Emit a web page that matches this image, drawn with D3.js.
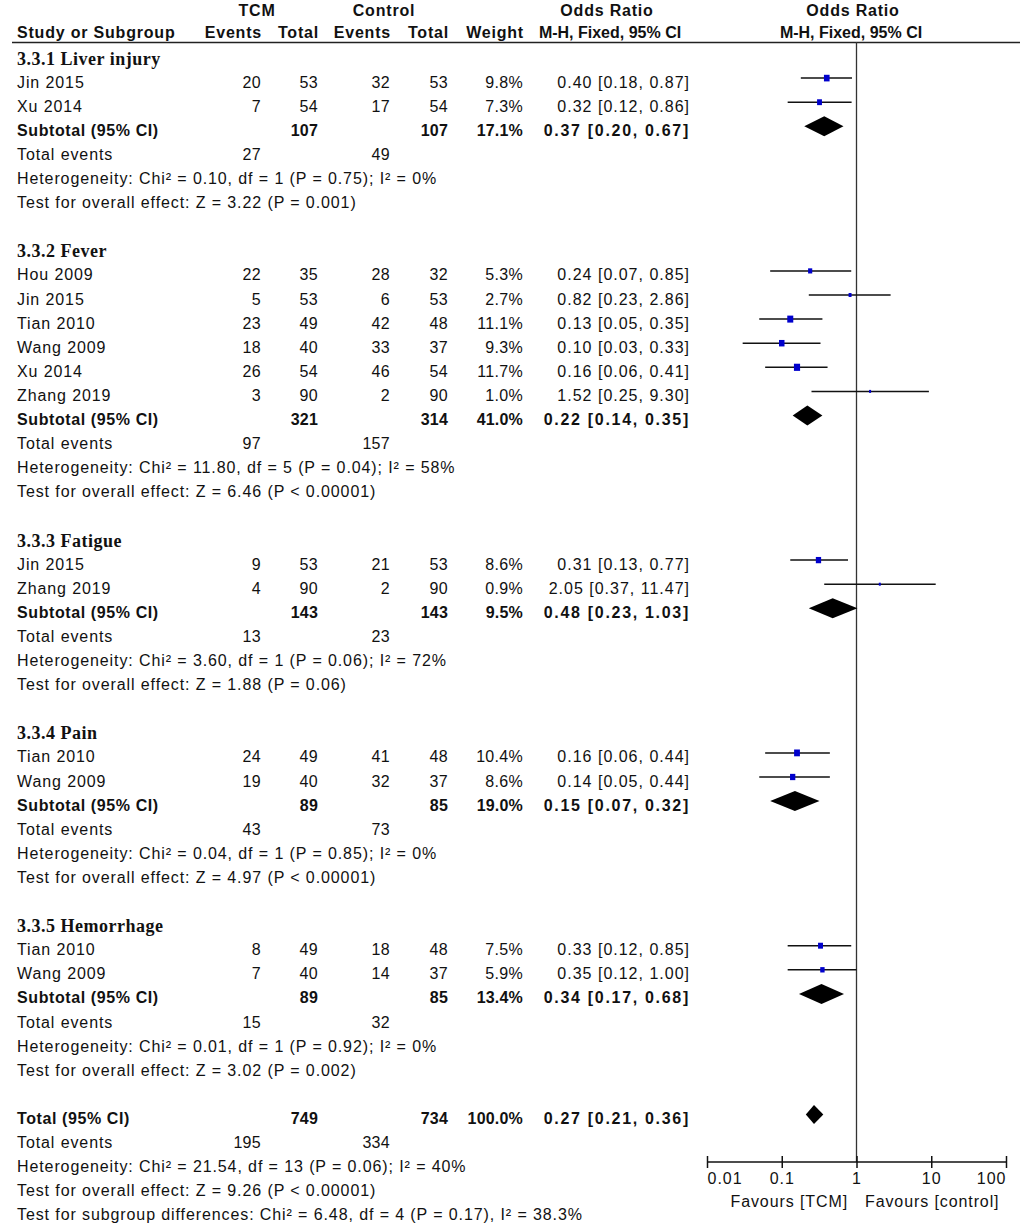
<!DOCTYPE html>
<html>
<head>
<meta charset="utf-8">
<script src="https://cdn.jsdelivr.net/npm/d3@7"></script>
<style>
  body { margin: 0; background: #fff; }
  svg text { font-family: "Liberation Sans", Arial, sans-serif; font-size: 16px; fill: #111; letter-spacing: 0.9px; }
  svg text.num { letter-spacing: 0.3px; }
  svg text.ci { letter-spacing: 1.0px; }
  svg text.b { font-weight: bold; letter-spacing: 0.6px; }
  svg text.b.ci { letter-spacing: 1.7px; }
  svg text.b.num { letter-spacing: 0.2px; }
  svg text.hd { font-weight: bold; font-size: 16px; letter-spacing: 0.8px; }
  svg text.hd.tight { letter-spacing: 0px; }
  svg text.grp { font-family: "Liberation Serif", "Times New Roman", serif; font-size: 18px; font-weight: bold; letter-spacing: 0.5px; }
</style>
</head>
<body>
<div id="chart"></div>
<script>
// 1. Data
var groupNames = ["3.3.1 Liver injury", "3.3.2 Fever", "3.3.3 Fatigue", "3.3.4 Pain", "3.3.5 Hemorrhage"];

var studyNames = ["Jin 2015", "Xu 2014",
    "Hou 2009", "Jin 2015", "Tian 2010", "Wang 2009", "Xu 2014", "Zhang 2019",
    "Jin 2015", "Zhang 2019",
    "Tian 2010", "Wang 2009",
    "Tian 2010", "Wang 2009"];
var studyGroup = [0, 0, 1, 1, 1, 1, 1, 1, 2, 2, 3, 3, 4, 4];
var tcmEvents = [20, 7, 22, 5, 23, 18, 26, 3, 9, 4, 24, 19, 8, 7];
var tcmTotal = [53, 54, 35, 53, 49, 40, 54, 90, 53, 90, 49, 40, 49, 40];
var ctlEvents = [32, 17, 28, 6, 42, 33, 46, 2, 21, 2, 41, 32, 18, 14];
var ctlTotal = [53, 54, 32, 53, 48, 37, 54, 90, 53, 90, 48, 37, 48, 37];
var weights = [9.8, 7.3, 5.3, 2.7, 11.1, 9.3, 11.7, 1.0, 8.6, 0.9, 10.4, 8.6, 7.5, 5.9];
var oddsRatios = [0.40, 0.32, 0.24, 0.82, 0.13, 0.10, 0.16, 1.52, 0.31, 2.05, 0.16, 0.14, 0.33, 0.35];
var ciLow = [0.18, 0.12, 0.07, 0.23, 0.05, 0.03, 0.06, 0.25, 0.13, 0.37, 0.06, 0.05, 0.12, 0.12];
var ciHigh = [0.87, 0.86, 0.85, 2.86, 0.35, 0.33, 0.41, 9.30, 0.77, 11.47, 0.44, 0.44, 0.85, 1.00];

// subtotals per group (last entry = overall total)
var subTcmTotal = [107, 321, 143, 89, 89, 749];
var subCtlTotal = [107, 314, 143, 85, 85, 734];
var subWeight = ["17.1%", "41.0%", "9.5%", "19.0%", "13.4%", "100.0%"];
var subOR = [0.37, 0.22, 0.48, 0.15, 0.34, 0.27];
var subLow = [0.20, 0.14, 0.23, 0.07, 0.17, 0.21];
var subHigh = [0.67, 0.35, 1.03, 0.32, 0.68, 0.36];
var subTcmEvents = [27, 97, 13, 43, 15, 195];
var subCtlEvents = [49, 157, 23, 73, 32, 334];
var hetText = [
    "Heterogeneity: Chi² = 0.10, df = 1 (P = 0.75); I² = 0%",
    "Heterogeneity: Chi² = 11.80, df = 5 (P = 0.04); I² = 58%",
    "Heterogeneity: Chi² = 3.60, df = 1 (P = 0.06); I² = 72%",
    "Heterogeneity: Chi² = 0.04, df = 1 (P = 0.85); I² = 0%",
    "Heterogeneity: Chi² = 0.01, df = 1 (P = 0.92); I² = 0%",
    "Heterogeneity: Chi² = 21.54, df = 13 (P = 0.06); I² = 40%"];
var effectText = [
    "Test for overall effect: Z = 3.22 (P = 0.001)",
    "Test for overall effect: Z = 6.46 (P < 0.00001)",
    "Test for overall effect: Z = 1.88 (P = 0.06)",
    "Test for overall effect: Z = 4.97 (P < 0.00001)",
    "Test for overall effect: Z = 3.02 (P = 0.002)",
    "Test for overall effect: Z = 9.26 (P < 0.00001)"];
var subgroupText = "Test for subgroup differences: Chi² = 6.48, df = 4 (P = 0.17), I² = 38.3%";

var tickValues = [0.01, 0.1, 1, 10, 100];
var tickLabels = ["0.01", "0.1", "1", "10", "100"];

// 2. Layout
var W = 1024, H = 1223;
var rowTop = 58, rowStep = 24.1;
var col = { name: 17, tcmEv: 261, tcmTot: 318, ctlEv: 390, ctlTot: 448, weight: 523, or: 690 };

var svg = d3.select("#chart").append("svg")
    .attr("width", W)
    .attr("height", H);

var x = d3.scaleLog().domain([0.01, 100]).range([707, 1006]);
var axisY = 1162;

function rowY(i) { return rowTop + rowStep * i; }
function fmt(v) { return v.toFixed(2); }
function ciStr(o, l, h) { return fmt(o) + " [" + fmt(l) + ", " + fmt(h) + "]"; }

// 3. Build the list of rows
var rows = [];
var idx = 0;
groupNames.forEach(function (g, gi) {
    rows.push({ type: "group", i: idx++, label: g });
    studyNames.forEach(function (s, si) {
        if (studyGroup[si] == gi) rows.push({ type: "study", i: idx++, s: si });
    });
    rows.push({ type: "sub", i: idx++, g: gi, label: "Subtotal (95% CI)" });
    rows.push({ type: "events", i: idx++, g: gi });
    rows.push({ type: "text", i: idx++, label: hetText[gi] });
    rows.push({ type: "text", i: idx++, label: effectText[gi] });
    idx++; // blank line
});
rows.push({ type: "sub", i: idx++, g: 5, label: "Total (95% CI)" });
rows.push({ type: "events", i: idx++, g: 5 });
rows.push({ type: "text", i: idx++, label: hetText[5] });
rows.push({ type: "text", i: idx++, label: effectText[5] });
rows.push({ type: "text", i: idx++, label: subgroupText });

// 4. Header
function txt(xp, yp, s, anchor, cls) {
    return svg.append("text").attr("x", xp).attr("y", yp)
        .attr("text-anchor", anchor || "start")
        .attr("class", cls || null)
        .text(s);
}
txt(257, 16, "TCM", "middle", "hd");
txt(384, 16, "Control", "middle", "hd");
txt(607, 16, "Odds Ratio", "middle", "hd");
txt(853, 16, "Odds Ratio", "middle", "hd");
txt(col.name, 38, "Study or Subgroup", "start", "hd");
txt(col.tcmEv + 1, 38, "Events", "end", "hd");
txt(col.tcmTot + 1, 38, "Total", "end", "hd");
txt(col.ctlEv + 1, 38, "Events", "end", "hd");
txt(col.ctlTot + 1, 38, "Total", "end", "hd");
txt(col.weight + 1, 38, "Weight", "end", "hd");
txt(610, 38, "M-H, Fixed, 95% CI", "middle", "hd tight");
txt(851, 38, "M-H, Fixed, 95% CI", "middle", "hd tight");

svg.append("line")
    .attr("x1", 12).attr("x2", 1020)
    .attr("y1", 42.5).attr("y2", 42.5)
    .attr("stroke", "#222").attr("stroke-width", 1.5);

// line of no effect
svg.append("line")
    .attr("x1", x(1)).attr("x2", x(1))
    .attr("y1", 42).attr("y2", axisY)
    .attr("stroke", "#333").attr("stroke-width", 1.3);

// 5. Rows
rows.forEach(function (r) {
    var yb = rowY(r.i) + 5.5;
    var ym = rowY(r.i) - 4;
    if (r.type == "group") {
        txt(col.name, yb + 1, r.label, "start", "grp");
    } else if (r.type == "study") {
        var s = r.s;
        txt(col.name, yb, studyNames[s]);
        txt(col.tcmEv, yb, tcmEvents[s], "end", "num");
        txt(col.tcmTot, yb, tcmTotal[s], "end", "num");
        txt(col.ctlEv, yb, ctlEvents[s], "end", "num");
        txt(col.ctlTot, yb, ctlTotal[s], "end", "num");
        txt(col.weight, yb, weights[s].toFixed(1) + "%", "end", "num");
        txt(col.or, yb, ciStr(oddsRatios[s], ciLow[s], ciHigh[s]), "end", "ci");
        svg.append("line")
            .attr("x1", x(ciLow[s])).attr("x2", x(ciHigh[s]))
            .attr("y1", ym).attr("y2", ym)
            .attr("stroke", "#111").attr("stroke-width", 1.5);
        var side = Math.max(2, 1.8 * Math.sqrt(weights[s]));
        svg.append("rect")
            .attr("x", x(oddsRatios[s]) - side / 2)
            .attr("y", ym - side / 2 - 0.5)
            .attr("width", side).attr("height", side + 1)
            .attr("fill", "#0000cc");
    } else if (r.type == "sub") {
        var g = r.g;
        txt(col.name, yb, r.label, "start", "b");
        txt(col.tcmTot, yb, subTcmTotal[g], "end", "b num");
        txt(col.ctlTot, yb, subCtlTotal[g], "end", "b num");
        txt(col.weight, yb, subWeight[g], "end", "b num");
        txt(col.or, yb, ciStr(subOR[g], subLow[g], subHigh[g]), "end", "b ci");
        var half = g == 5 ? 9.5 : 10;
        var pts = [[x(subLow[g]), ym], [x(subOR[g]), ym - half], [x(subHigh[g]), ym], [x(subOR[g]), ym + half]];
        svg.append("path")
            .attr("d", d3.line()(pts) + "Z")
            .attr("fill", "#000");
    } else if (r.type == "events") {
        txt(col.name, yb, "Total events");
        txt(col.tcmEv, yb, subTcmEvents[r.g], "end", "num");
        txt(col.ctlEv, yb, subCtlEvents[r.g], "end", "num");
    } else {
        txt(col.name, yb, r.label);
    }
});

// 6. Axis
var axis = svg.append("g")
    .attr("transform", "translate(0," + axisY + ")")
    .call(d3.axisBottom(x).tickValues(tickValues).tickSize(6).tickFormat(function (d, i) { return tickLabels[i]; }));
axis.select(".domain").attr("stroke", "#111").attr("stroke-width", 1.5).attr("d", "M707,0H1006");
axis.selectAll(".tick line").attr("y1", -6).attr("y2", 6).attr("stroke", "#111").attr("stroke-width", 1.5);
axis.selectAll(".tick text")
    .attr("y", 22).attr("dy", null)
    .style("font-size", "16px")
    .style("letter-spacing", "1px")
    .style("font-family", "Liberation Sans, Arial, sans-serif")
    .attr("fill", "#111")
    .attr("text-anchor", function (d, i) { return i == 0 ? "start" : (i == tickValues.length - 1 ? "end" : "middle"); });

txt(848, 1207, "Favours [TCM]", "end");
txt(865, 1207, "Favours [control]", "start");
</script>
</body>
</html>
